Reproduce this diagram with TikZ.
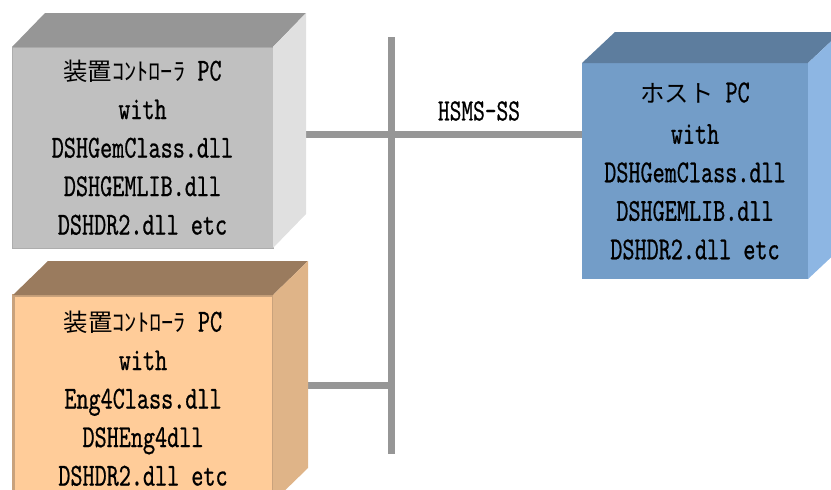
\documentclass[tikz,border=0pt]{standalone}
\usepackage{fontspec}
\newfontfamily\monof[FakeStretch=0.72,FakeBold=0.6]{lmmono10-regular.otf}
\newfontfamily\cjk{Noto Sans CJK JP}
\definecolor{gfront}{HTML}{C0C0C0}
\definecolor{gtop}{HTML}{969696}
\definecolor{gside}{HTML}{E0E0E0}
\definecolor{gedge}{HTML}{ADADAD}
\definecolor{ofront}{HTML}{FFCC99}
\definecolor{otop}{HTML}{9A7B5E}
\definecolor{oside}{HTML}{DFB488}
\definecolor{oedge}{HTML}{C9A27C}
\definecolor{bfront}{HTML}{739DC8}
\definecolor{btop}{HTML}{5D7D9E}
\definecolor{bside}{HTML}{8DB6E3}
\definecolor{busgray}{HTML}{969696}
\newcommand\jp[1]{{\cjk\fontsize{24.4}{38.5}\selectfont #1}}
\tikzset{
  front/.style={inner sep=0pt, outer sep=0pt, align=center,
    font=\monof\fontsize{32}{38.5}\selectfont, text=black},
  bus/.style={line width=7pt, draw=busgray},
  lbl/.style={font=\monof\fontsize{31}{31}\selectfont, text=black}
}
\begin{document}
\begin{tikzpicture}[x=1pt,y=-1pt]
\useasboundingbox (0,0) rectangle (831,490);
% front faces
\node[front, fill=gfront, draw=gedge, line width=1pt, minimum width=261pt, minimum height=201pt] (pc1) at (142.5,147.5)
  {\jp{装置ｺﾝﾄﾛｰﾗ} PC\\with\\DSHGemClass.dll\\DSHGEMLIB.dll\\DSHDR2.dll etc};
\node[front, fill=ofront, draw=oedge, line width=3pt, minimum width=260pt, minimum height=207pt] (pc2) at (143,398.5)
  {\jp{装置ｺﾝﾄﾛｰﾗ} PC\\with\\Eng4Class.dll\\DSHEng4dll\\DSHDR2.dll etc};
\node[front, fill=bfront, minimum width=226pt, minimum height=216pt] (pc3) at (695,171)
  {\raisebox{3pt}{\jp{ホスト} PC}\\with\\DSHGemClass.dll\\DSHGEMLIB.dll\\DSHDR2.dll etc};
% bus and connectors
\coordinate (bt) at (391,37);
\coordinate (bb) at (391,454);
\coordinate (j1) at (391,134);
\coordinate (j2) at (391,385);
\draw[bus] (bt) -- (bb);
\draw[bus] (pc1.east |- j1) -- (j1);
\draw[bus] (j1) -- (pc3.west |- j1);
\draw[bus] (pc2.east |- j2) -- (j2);
\node[lbl] (hsms) at (479,111) {HSMS-SS};
% top and side faces
\fill[gtop] (pc1.north west) -- ++(33,-34) -- ++(261,0) -- (pc1.north east) -- cycle;
\fill[gside] (pc1.north east) -- ++(33,-34) -- ++(0,201) -- (pc1.south east) -- cycle;
\fill[otop] (pc2.north west) -- ++(35,-34) -- ++(260,0) -- (pc2.north east) -- cycle;
\fill[oside] (pc2.north east) -- ++(35,-34) -- ++(0,207) -- (pc2.south east) -- cycle;
\fill[btop] (pc3.north west) -- ++(33,-31) -- ++(226,0) -- (pc3.north east) -- cycle;
\fill[bside] (pc3.north east) -- ++(33,-31) -- ++(0,216) -- (pc3.south east) -- cycle;
\end{tikzpicture}
\end{document}
